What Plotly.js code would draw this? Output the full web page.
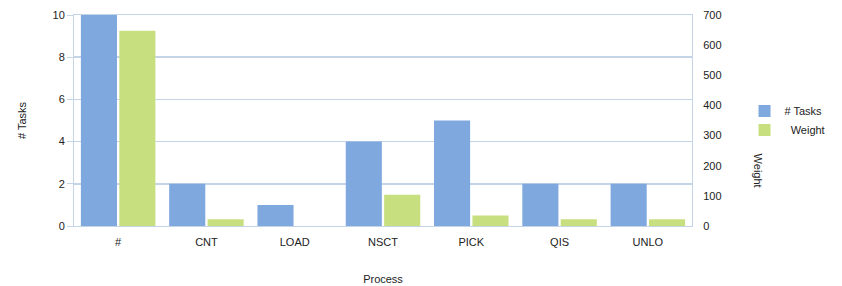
<!DOCTYPE html>
<html><head><meta charset="utf-8">
<script src="https://cdn.plot.ly/plotly-3.0.1.min.js"></script>
<style>html,body{margin:0;padding:0;background:#fff}#c{width:842px;height:286px}</style>
</head><body><div id="c"></div>
<script>
const categories = ["#", "CNT", "LOAD", "NSCT", "PICK", "QIS", "UNLO"];
const tasks = [10, 2, 1, 4, 5, 2, 2];
const weight = [648, 22, 0, 104, 35, 22, 22];
const leftTicks = [0, 2, 4, 6, 8, 10];
const rightTicks = [0, 100, 200, 300, 400, 500, 600, 700];

const font = {family: "Liberation Sans, Arial, sans-serif", size: 11, color: "#222"};
const data = [
  {type: "bar", name: "# Tasks", x: categories, y: tasks, yaxis: "y",
   offsetgroup: "a", marker: {color: "#7FA8DE", line: {width: 0}}},
  {type: "bar", name: "  Weight", x: categories, y: weight, yaxis: "y2",
   offsetgroup: "b", marker: {color: "#C8DF80", line: {width: 0}}}
];
const layout = {
  width: 842, height: 286,
  margin: {l: 74, r: 145, t: 15, b: 60},
  paper_bgcolor: "#fff", plot_bgcolor: "#fff",
  font: font,
  barmode: "group", bargap: 0.13, bargroupgap: 0.06,
  showlegend: true,
  legend: {x: 1.085, y: 0.5, xanchor: "left", yanchor: "middle", font: font,
           itemwidth: 30, tracegroupgap: 0, traceorder: "normal"},
  xaxis: {type: "category", showgrid: false, showline: true, linecolor: "#C5D5E8",
          mirror: true, ticks: "", tickfont: font, ticklabelstandoff: 6,
          title: {text: "Process", font: font, standoff: 28}},
  yaxis: {range: [0, 10], tickvals: leftTicks, ticktext: leftTicks.map(String),
          showgrid: true, gridcolor: "#C5D5E8", gridwidth: 1.5, zeroline: false,
          showline: true, linecolor: "#C5D5E8", ticks: "outside", ticklen: 6, tickcolor: "#C5D5E8",
          tickfont: font, title: {text: "# Tasks", font: font, standoff: 23}},
  yaxis2: {overlaying: "y", side: "right", range: [0, 700], tickvals: rightTicks,
           ticktext: rightTicks.map(String), showgrid: false, zeroline: false,
           showline: true, linecolor: "#C5D5E8", ticks: "", ticklabelstandoff: 8, tickfont: font},
  annotations: [{text: "Weight", xref: "paper", yref: "paper", x: 1.106, y: 0.265,
                 xanchor: "center", yanchor: "middle",
                 showarrow: false, textangle: 90, font: font}]
};
Plotly.newPlot("c", data, layout, {displayModeBar: false, staticPlot: true});
</script></body></html>
